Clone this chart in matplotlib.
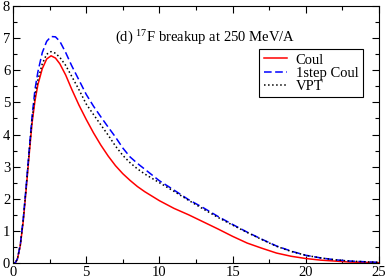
import numpy as np
import matplotlib
matplotlib.use("Agg")
import matplotlib.pyplot as plt
from matplotlib.ticker import MultipleLocator

plt.rcParams['font.family'] = ['Liberation Serif', 'DejaVu Serif']
plt.rcParams['mathtext.fontset'] = 'custom'
plt.rcParams['mathtext.rm'] = 'Liberation Serif'
plt.rcParams['mathtext.it'] = 'Liberation Serif:italic'

# energy grid and curves
x = [0.0, 0.15, 0.3, 0.5, 0.7, 0.9, 1.1, 1.3, 1.5, 1.7, 2.0, 2.3, 2.6, 2.9,
     3.2, 3.6, 4.0, 4.5, 5.0, 5.5, 6.0, 6.5, 7.0, 7.5, 8.0, 8.5, 9.0, 10, 11,
     12, 13, 14, 15, 16, 17, 18, 19, 20, 21, 22, 23, 24, 25]
coul = [0.0, 0.0, 0.12, 0.55, 1.3, 2.3, 3.35, 4.35, 5.05, 5.55, 6.05, 6.35,
        6.45, 6.38, 6.2, 5.85, 5.42, 4.92, 4.47, 4.05, 3.67, 3.33, 3.03,
        2.78, 2.57, 2.38, 2.22, 1.94, 1.7, 1.5, 1.28, 1.06, 0.83, 0.62, 0.46,
        0.31, 0.21, 0.14, 0.09, 0.06, 0.03, 0.02, 0.01]
step1 = [0.0, 0.0, 0.13, 0.58, 1.38, 2.4, 3.5, 4.55, 5.4, 5.95, 6.55, 6.9,
         7.05, 7.04, 6.9, 6.55, 6.15, 5.7, 5.25, 4.88, 4.55, 4.23, 3.92,
         3.58, 3.3, 3.1, 2.92, 2.56, 2.27, 1.97, 1.72, 1.45, 1.2, 0.96, 0.74,
         0.53, 0.37, 0.24, 0.16, 0.1, 0.06, 0.04, 0.02]
vpt = [0.0, 0.0, 0.12, 0.56, 1.34, 2.35, 3.42, 4.45, 5.2, 5.7, 6.2, 6.5,
       6.58, 6.53, 6.4, 6.15, 5.82, 5.4, 4.95, 4.62, 4.3, 3.98, 3.64, 3.35,
       3.12, 2.93, 2.77, 2.5, 2.23, 1.95, 1.68, 1.42, 1.18, 0.95, 0.73, 0.52,
       0.36, 0.24, 0.16, 0.1, 0.06, 0.04, 0.02]

fig = plt.figure(figsize=(3.87, 2.79), dpi=100)
ax = fig.add_axes([0.0336, 0.0573, 0.9457, 0.9212])

ax.plot(x, coul, color='red', lw=1.1, label='Coul')
ax.plot(x, step1, color='blue', lw=1.1, dashes=[5, 2.3], label='1step Coul')
ax.plot(x, vpt, color='black', lw=1.1, linestyle=':', label='VPT')

ax.set_xlim(0, 25)
ax.set_ylim(0, 8)
ax.xaxis.set_major_locator(MultipleLocator(5))
ax.xaxis.set_minor_locator(MultipleLocator(2.5))
ax.yaxis.set_major_locator(MultipleLocator(1))
ax.yaxis.set_minor_locator(MultipleLocator(0.5))
ax.tick_params(which='both', direction='in', top=True, right=True,
               labelsize=10.5, pad=2)
ax.tick_params(which='major', length=5, width=0.8)
ax.tick_params(which='minor', length=3, width=0.8)
for s in ax.spines.values():
    s.set_linewidth(0.8)

ax.text(6.97, 7.0, '(d) $^{17}$F breakup at 250 MeV/A', fontsize=10.5,
        ha='left', va='center')

leg = ax.legend(loc='upper right', bbox_to_anchor=(0.956, 0.833),
                borderaxespad=0, fontsize=10.5, fancybox=False,
                edgecolor='black', framealpha=1, handlelength=1.6,
                handletextpad=0.6, labelspacing=0.0, borderpad=0.3)
leg.get_frame().set_linewidth(0.8)

fig.savefig('out.png', dpi=100)
